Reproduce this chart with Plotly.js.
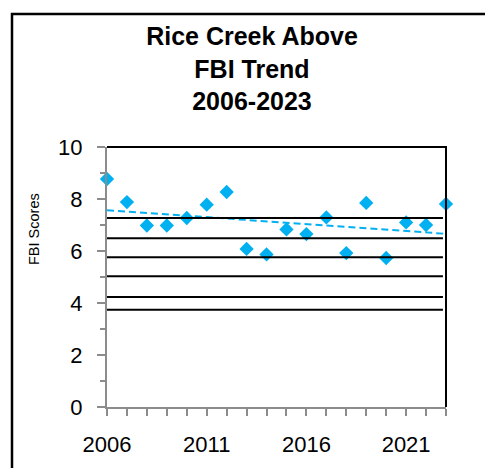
<!DOCTYPE html>
<html>
<head>
<meta charset="utf-8">
<script src="https://cdn.plot.ly/plotly-3.0.1.min.js"></script>
<style>
html,body{margin:0;padding:0;background:#fff;}
#chart{width:485px;height:468px;}
</style>
</head>
<body>
<div id="chart"></div>
<script>
// ---- data ----
const years = [2006,2007,2008,2009,2010,2011,2012,2013,2014,2015,2016,2017,2018,2019,2020,2021,2022,2023];
const fbiScores = [8.77,7.88,6.98,6.98,7.27,7.78,8.27,6.08,5.87,6.83,6.65,7.29,5.92,7.85,5.73,7.10,7.00,7.81];
const thresholds = [7.27,6.49,5.76,5.03,4.23,3.74];
const titleLines = ["Rice Creek Above","FBI Trend","2006-2023"];
const yTitle = "FBI Scores";
const xTickVals = [2006,2011,2016,2021];
const yTickVals = [0,2,4,6,8,10];

// least-squares linear trend from the data
const n = years.length;
const mx = years.reduce((a,b)=>a+b,0)/n;
const my = fbiScores.reduce((a,b)=>a+b,0)/n;
let sxy=0, sxx=0;
for(let i=0;i<n;i++){sxy+=(years[i]-mx)*(fbiScores[i]-my);sxx+=(years[i]-mx)**2;}
const slope = sxy/sxx, icpt = my - slope*mx;
const trendX = [years[0], years[n-1]];
const trendY = trendX.map(x=>icpt+slope*x);

const W=485,H=468,L=107,R=39,T=147,B=61;
const pw=W-L-R, ph=H-T-B;
const px = x => (x-L)/pw;
const py = y => (H-B-y)/ph;

const blue = '#00B0F0';
const gray = '#8C8C8C';
const font = 'Liberation Sans, Arial, sans-serif';

const traces = [
  {x: years, y: fbiScores, type:'scatter', mode:'markers',
   marker:{symbol:'diamond', size:11, color:blue}, cliponaxis:false, hoverinfo:'x+y'},
  {x: trendX, y: trendY, type:'scatter', mode:'lines',
   line:{color:blue, width:2, dash:'7px,4px'}, hoverinfo:'skip'}
];

const shapes = thresholds.map(v=>({type:'line', xref:'x domain', yref:'y', x0:0, x1:0.991, y0:v, y1:v,
  line:{color:'#000', width:2}, layer:'above'}));
// plot border top and right
shapes.push({type:'path', xref:'paper', yref:'paper',
  path:`M ${px(L)} 1 L 1 1 L 1 0`, line:{color:'#000', width:2}, layer:'above'});
// outer chart frame
shapes.push({type:'path', xref:'paper', yref:'paper',
  path:`M ${px(12)} ${py(H+20)} L ${px(12)} ${py(14)} L ${px(W+20)} ${py(14)}`, line:{color:'#000', width:2.5}, layer:'above'});

const layout = {
  width:W, height:H,
  margin:{l:L, r:R, t:T, b:B, pad:0},
  paper_bgcolor:'#fff', plot_bgcolor:'#fff',
  showlegend:false,
  font:{family:font, color:'#000'},
  title:{text:'<b>'+titleLines.join('<br>')+'</b>', font:{family:font, size:25, color:'#000'},
    xref:'container', x:252/W, xanchor:'center', yref:'container', y:1-45/H, yanchor:'top'},
  xaxis:{range:[2006,2023], tickmode:'array', tickvals:xTickVals, ticktext:xTickVals.map(String),
    ticks:'outside', ticklen:7, tickwidth:2, tickcolor:gray,
    minor:{dtick:1, tick0:2006, ticks:'outside', ticklen:7, tickwidth:2, tickcolor:gray},
    showline:true, linecolor:gray, linewidth:2, showgrid:false, zeroline:false,
    tickfont:{family:font, size:22, color:'#000'}, ticklabelstandoff:10, fixedrange:true},
  yaxis:{range:[0,10], tickmode:'array', tickvals:yTickVals, ticktext:yTickVals.map(String),
    ticks:'outside', ticklen:8, tickwidth:2, tickcolor:gray,
    minor:{dtick:1, tick0:0, ticks:'outside', ticklen:5, tickwidth:2, tickcolor:gray},
    showline:true, linecolor:gray, linewidth:2, showgrid:false, zeroline:false,
    tickfont:{family:font, size:22, color:'#000'}, ticklabelstandoff:10, fixedrange:true},
  annotations:[{text:yTitle, xref:'paper', yref:'paper', x:px(34), y:py(229),
    xanchor:'center', yanchor:'middle', textangle:-90, showarrow:false,
    font:{family:font, size:14.5, color:'#000'}}],
  shapes: shapes
};

Plotly.newPlot('chart', traces, layout, {displayModeBar:false, staticPlot:true});
</script>
</body>
</html>
